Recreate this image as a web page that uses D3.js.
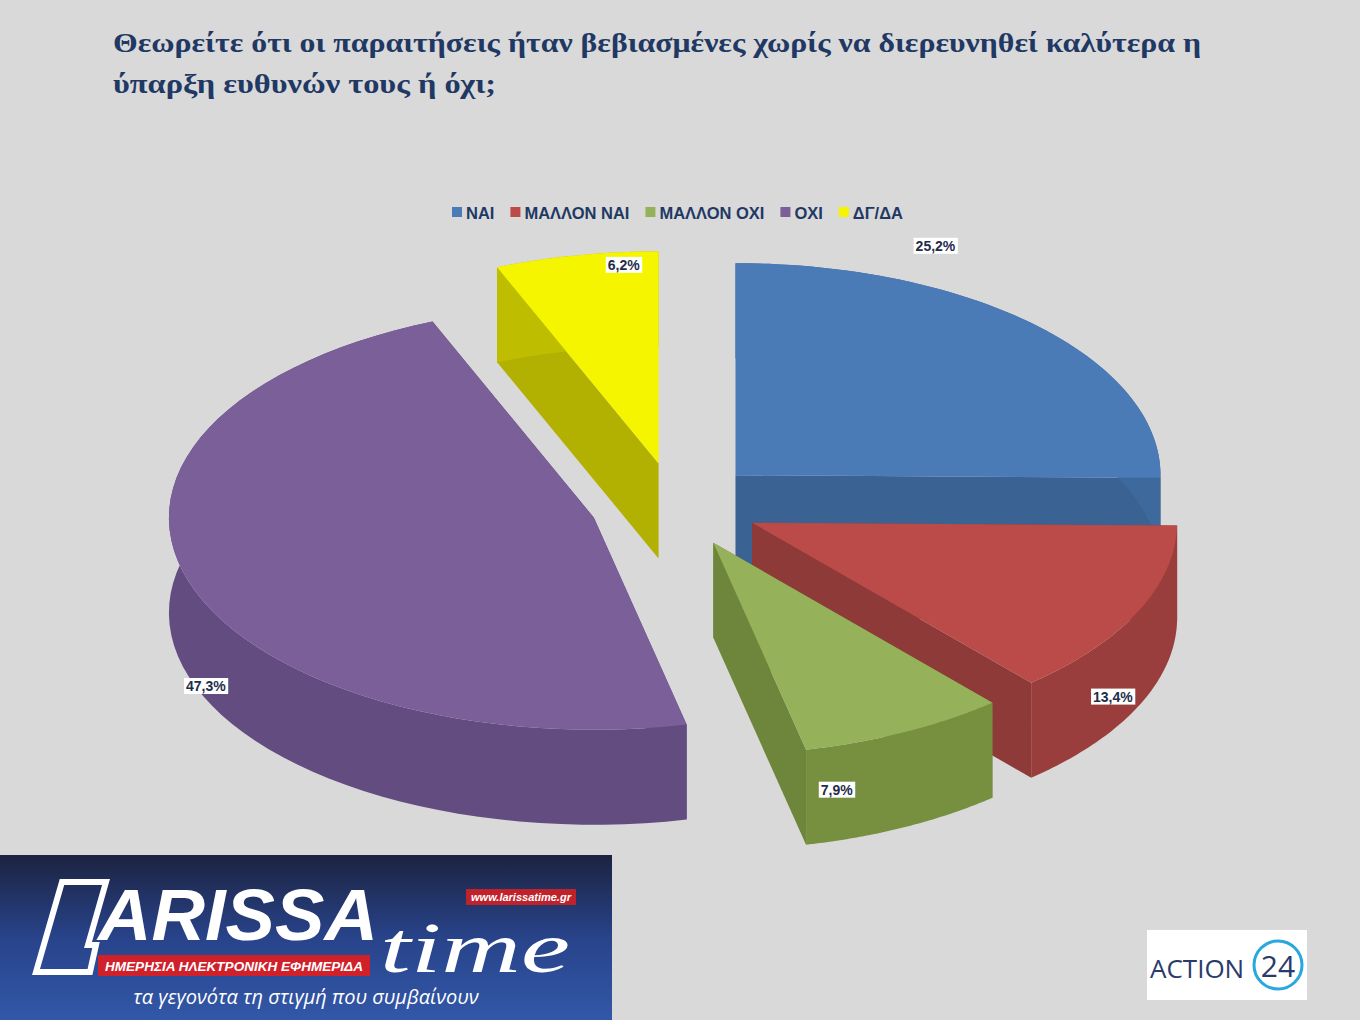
<!DOCTYPE html>
<html><head><meta charset="utf-8">
<script src="https://cdn.jsdelivr.net/npm/d3@7/dist/d3.min.js"></script>
<style>body{margin:0;background:#d9d9d9}svg{display:block}</style>
</head><body>
<script>
const categories = ["ΝΑΙ","ΜΑΛΛΟΝ ΝΑΙ","ΜΑΛΛΟΝ ΟΧΙ","ΟΧΙ","ΔΓ/ΔΑ"];
const values = [25.2,13.4,7.9,47.3,6.2];
const topColors = ["#4a7bb6","#ba4b49","#95b25a","#7b5f99","#f5f500"];
const sideColors = ["#3e699d","#993e3c","#76903f","#624c80","#bfbd00"];
const explode = [0.2,0.2,0.2,0.2,0.2];
const labelAngle = [23.5,134,166,229,355];
const labelR = [1.18,1.18,1.2,1.21,0.94];

const W=1360,H=1020, cx=675, cy=505, rx=425, ry=212, depth=95;
const svg=d3.select("body").append("svg").attr("width",W).attr("height",H);
svg.append("rect").attr("width",W).attr("height",H).attr("fill","#d9d9d9");

svg.append("text").attr("x",113).attr("y",52).attr("font-family","Liberation Serif").attr("font-weight","bold")
 .attr("font-size",27).attr("fill","#1f3864").attr("textLength",1088).attr("lengthAdjust","spacingAndGlyphs").text("Θεωρείτε ότι οι παραιτήσεις ήταν βεβιασμένες χωρίς να διερευνηθεί καλύτερα η");
svg.append("text").attr("x",113).attr("y",93).attr("font-family","Liberation Serif").attr("font-weight","bold")
 .attr("font-size",27).attr("fill","#1f3864").attr("textLength",383).attr("lengthAdjust","spacingAndGlyphs").text("ύπαρξη ευθυνών τους ή όχι;");

const leg=svg.append("g").attr("font-family","Liberation Sans, Arial").attr("font-weight","bold").attr("font-size",16.5);
let lx=452;
categories.forEach((c,i)=>{
  leg.append("rect").attr("x",lx).attr("y",207).attr("width",10).attr("height",10).attr("fill",topColors[i]);
  const t=leg.append("text").attr("x",lx+14).attr("y",219).attr("fill","#1f3864").text(c);
  lx+=14+t.node().getComputedTextLength()+16;
});

const pie=d3.pie().sort(null).value(d=>d)(values);
const rad=d=>d*Math.PI/180;
function P(o,a,r,z){return [o[0]+r*rx*Math.sin(a), o[1]-r*ry*Math.cos(a)+z];}
const slices=pie.map((p,i)=>{
  const m=(p.startAngle+p.endAngle)/2;
  const o=[cx+explode[i]*rx*Math.sin(m), cy-explode[i]*ry*Math.cos(m)];
  return {p,i,o};
});
const order=slices.slice().sort((a,b)=>a.o[1]-b.o[1]);
const line=d3.line();
order.forEach(s=>{
  const {p,i,o}=s, g=svg.append("g");
  const n=60, arcT=[], arcB=[];
  for(let k=0;k<=n;k++){const a=p.startAngle+(p.endAngle-p.startAngle)*k/n; arcT.push(P(o,a,1,0)); arcB.push(P(o,a,1,depth));}
  [p.startAngle,p.endAngle].forEach(a=>{
    g.append("path").attr("d",line([P(o,0,0,0),P(o,a,1,0),P(o,a,1,depth),P(o,0,0,depth)])+"Z").attr("fill",d3.color(sideColors[i]).darker(0.2));
  });
  g.append("path").attr("d",line(arcT.concat(arcB.slice().reverse()))+"Z").attr("fill",sideColors[i]);
  g.append("path").attr("d",line([P(o,0,0,0)].concat(arcT))+"Z").attr("fill",topColors[i]);
});
slices.forEach(s=>{
  const {i,o}=s; const [x,y]=P(o,rad(labelAngle[i]),labelR[i],0);
  const g=svg.append("g");
  const t=g.append("text").attr("x",x).attr("y",y+5).attr("text-anchor","middle").attr("font-family","Liberation Sans, Arial")
   .attr("font-weight","bold").attr("font-size",14).attr("fill","#1f2d4a").text(values[i].toFixed(1).replace(".",",")+"%");
  const b=t.node().getBBox();
  g.insert("rect","text").attr("x",b.x-2).attr("y",b.y).attr("width",b.width+4).attr("height",b.height).attr("fill","#ffffff");
});

const defs=svg.append("defs");
const gr=defs.append("linearGradient").attr("id","lg").attr("x1",0).attr("y1",0).attr("x2",0).attr("y2",1);
gr.append("stop").attr("offset",0).attr("stop-color","#1c2340");
gr.append("stop").attr("offset",0.5).attr("stop-color","#28438a");
gr.append("stop").attr("offset",1).attr("stop-color","#3258a8");
svg.append("rect").attr("x",0).attr("y",855).attr("width",612).attr("height",165).attr("fill","url(#lg)");
svg.append("path").attr("d","M62,882 L106,882 L88,945 L96,945 L90,972 L36,972 Z").attr("fill","none").attr("stroke","#fff").attr("stroke-width",6);
svg.append("text").attr("x",98).attr("y",940).attr("font-family","Liberation Sans").attr("font-style","italic").attr("font-weight","bold").attr("font-size",72).attr("fill","#fff").attr("textLength",280).attr("lengthAdjust","spacingAndGlyphs").text("ARISSA");
svg.append("text").attr("x",380).attr("y",972).attr("font-family","Liberation Serif").attr("font-style","italic").attr("font-size",72).attr("fill","#fff").attr("textLength",190).attr("lengthAdjust","spacingAndGlyphs").text("time");
svg.append("rect").attr("x",98).attr("y",955).attr("width",272).attr("height",21).attr("fill","#d0202a");
svg.append("text").attr("x",234).attr("y",971).attr("text-anchor","middle").attr("font-family","Liberation Sans").attr("font-style","italic").attr("font-weight","bold").attr("font-size",13).attr("fill","#fff").attr("textLength",258).attr("lengthAdjust","spacingAndGlyphs").text("ΗΜΕΡΗΣΙΑ ΗΛΕΚΤΡΟΝΙΚΗ ΕΦΗΜΕΡΙΔΑ");
svg.append("rect").attr("x",466).attr("y",889).attr("width",110).attr("height",16).attr("fill","#c0222b");
svg.append("text").attr("x",521).attr("y",901).attr("text-anchor","middle").attr("font-family","Liberation Sans").attr("font-style","italic").attr("font-weight","bold").attr("font-size",11).attr("fill","#fff").text("www.larissatime.gr");
svg.append("text").attr("x",306).attr("y",1004).attr("text-anchor","middle").attr("font-family","Open Sans").attr("font-style","italic").attr("font-size",20).attr("fill","#fff").text("τα γεγονότα τη στιγμή που συμβαίνουν");

svg.append("rect").attr("x",1147).attr("y",930).attr("width",160).attr("height",70).attr("fill","#fff");
svg.append("text").attr("x",1150).attr("y",978).attr("font-family","Open Sans").attr("font-size",26).attr("fill","#2a3a6b").text("ACTION");
svg.append("circle").attr("cx",1278).attr("cy",965).attr("r",24).attr("fill","none").attr("stroke","#29a8e0").attr("stroke-width",3);
svg.append("text").attr("x",1278).attr("y",977).attr("text-anchor","middle").attr("font-family","Open Sans").attr("font-size",30).attr("fill","#2a3a6b").text("24");
</script>
</body></html>
